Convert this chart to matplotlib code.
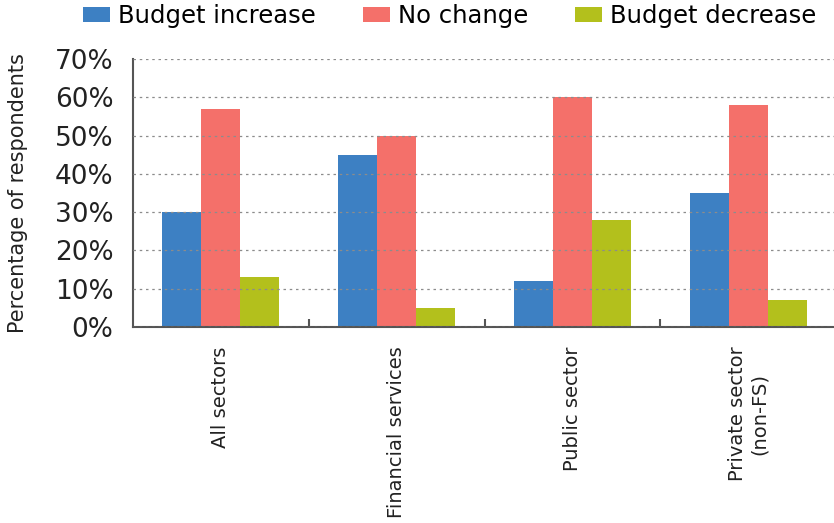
import matplotlib
matplotlib.use("Agg")
import matplotlib.pyplot as plt
import numpy as np

sectors = ["All sectors", "Financial services", "Public sector", "Private sector\n(non-FS)"]
budget_increase = [30, 45, 12, 35]
no_change = [57, 50, 60, 58]
budget_decrease = [13, 5, 28, 7]
series_names = ["Budget increase", "No change", "Budget decrease"]
colors = ["#3d80c3", "#f4706a", "#b3c01c"]

plt.rcParams["font.family"] = ["DejaVu Sans"]

fig = plt.figure(figsize=(8.34, 5.23), dpi=100)
ax = fig.add_axes([133 / 834, 1 - 327 / 523, (836 - 133) / 834, (327 - 59) / 523])

x = np.arange(len(sectors))
w = 0.222
bars = []
for i, vals in enumerate([budget_increase, no_change, budget_decrease]):
    b = ax.bar(x + (i - 1) * w, vals, w, color=colors[i], label=series_names[i], zorder=1)
    bars.append(b)

ax.set_xlim(-0.5, len(sectors) - 0.5)
ax.set_ylim(0, 70)
ax.set_yticks(range(0, 71, 10))
ax.set_yticklabels([f"{v}%" for v in range(0, 71, 10)], fontsize=19, color="#222222")
ax.tick_params(axis="y", length=0, pad=14)

ax.set_xticks(x)
ax.set_xticklabels(sectors, rotation=90, fontsize=14, va="top", ha="center",
                   multialignment="center", color="#222222")
ax.tick_params(axis="x", length=0, pad=14)
ax.set_xticks(x[:-1] + 0.5, minor=True)
ax.tick_params(axis="x", which="minor", direction="in", length=6, width=1.5, color="#555555")

ax.yaxis.grid(True, linestyle=(0, (2, 3)), color="#8c8c8c", linewidth=0.9, zorder=3)
ax.set_axisbelow(False)

for s in ["top", "right"]:
    ax.spines[s].set_visible(False)
for s in ["left", "bottom"]:
    ax.spines[s].set_color("#555555")
    ax.spines[s].set_linewidth(1.5)

ax.set_ylabel("Percentage of respondents", fontsize=15, color="#222222")
ax.yaxis.set_label_coords(-0.15, 0.5)

fig.legend(handles=bars, labels=series_names, loc="upper left",
           bbox_to_anchor=(83 / 834, 1 - 4 / 523), ncol=3, frameon=False,
           fontsize=17.5, handlelength=1.1, handleheight=0.62, handletextpad=0.33,
           columnspacing=1.95, borderpad=0, borderaxespad=0)

fig.savefig("out.png", dpi=100)
